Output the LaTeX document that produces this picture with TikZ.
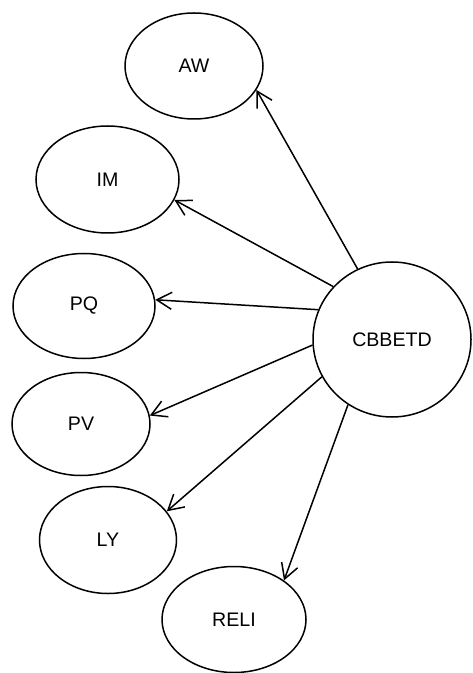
\documentclass[tikz,border=0pt]{standalone}
\usepackage{fontspec}
\setmainfont{Liberation Sans}
\usetikzlibrary{arrows.meta,shapes.geometric}
\tikzset{
  factor/.style={draw, ellipse, line width=0.75pt, inner sep=0pt,
    minimum width=70pt, minimum height=53pt, align=center,
    font=\fontsize{9.8}{12}\selectfont},
  hub/.style={factor, minimum width=79pt, minimum height=77.5pt},
  link/.style={-{Straight Barb[length=7.5pt,width=8.5pt]}, line width=0.75pt}
}

\begin{document}
\begin{tikzpicture}[x=0.5pt, y=-0.5pt]
  \useasboundingbox (0,0) rectangle (472,673);
  \node[factor, minimum width=69pt] (aw) at (194,66) {AW};
  \node[factor, minimum width=71.5pt, minimum height=53.5pt] (im) at (107.5,179.5) {IM};
  \node[factor, minimum width=71pt, minimum height=52.5pt] (pq) at (84,306) {PQ};
  \node[factor, minimum width=69pt, minimum height=51.5pt] (pv) at (81,424) {PV};
  \node[factor, minimum width=68.5pt, minimum height=53.5pt] (ly) at (108,540) {LY};
  \node[factor, minimum width=72pt] (reli) at (234,619.5) {RELI};
  \node[hub] (cb) at (392,339.5) {CBBETD};

  \draw[link] (cb.116) -- (aw.-21);
  \draw[link] (cb.138) -- (im.-17);
  \draw[link] (cb.158) -- (pq.5);
  \draw[link] (cb.184) -- (pv.7);
  \draw[link] (cb.208) -- (ly.26);
  \draw[link] (cb.236) -- (reli.38);
\end{tikzpicture}
\end{document}
